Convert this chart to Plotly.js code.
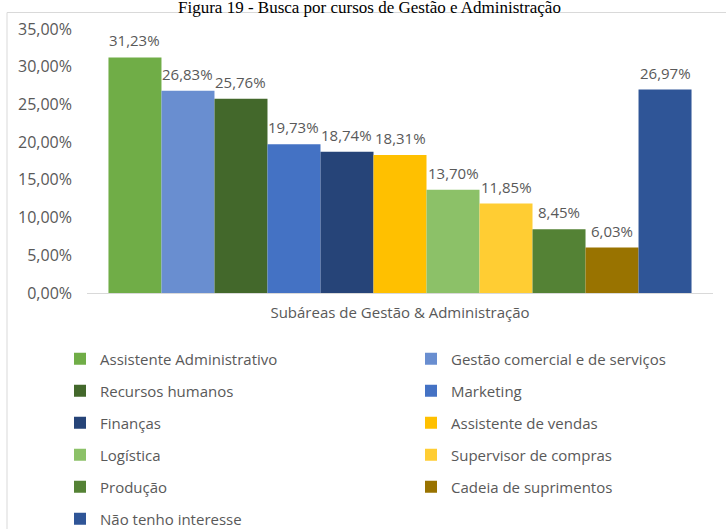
<!DOCTYPE html>
<html>
<head>
<meta charset="utf-8">
<script src="https://cdn.plot.ly/plotly-3.0.1.min.js"></script>
<style>html,body{margin:0;padding:0;background:#fff;}#chart{width:726px;height:529px;}</style>
</head>
<body>
<div id="chart"></div>
<script>
const chartTitle = 'Figura 19 - Busca por cursos de Gestão e Administração';
const axisTitle = 'Subáreas de Gestão & Administração';
const categories = [
  'Assistente Administrativo',
  'Gestão comercial e de serviços',
  'Recursos humanos',
  'Marketing',
  'Finanças',
  'Assistente de vendas',
  'Logística',
  'Supervisor de compras',
  'Produção',
  'Cadeia de suprimentos',
  'Não tenho interesse'
];
const values = [31.23, 26.83, 25.76, 19.73, 18.74, 18.31, 13.70, 11.85, 8.45, 6.03, 26.97];
const colors = ['#70AD47', '#698ED0', '#43682B', '#4472C4', '#264478', '#FFC000',
                '#8CC168', '#FFCD33', '#548235', '#997300', '#2F5597'];

const FONT = 'Open Sans, Lato, sans-serif';
const GRAY = '#595959';

// pixel helpers for layout (plot area 87..713 x, 29..293 y)
const L = 87, R = 713, T = 29, B = 293;
const W = 726, H = 529;
const px = x => (x - L) / (R - L);
const py = y => (B - y) / (B - T);

const fmt = v => v.toFixed(2).replace('.', ',') + '%';

const traces = categories.map((name, i) => ({
  type: 'bar',
  x: [i],
  y: [values[i]],
  width: 1,
  name: name,
  marker: {color: colors[i], line: {width: 0}},
  legend: i % 2 === 0 ? 'legend' : 'legend2',
  legendgroup: 'g' + i,
  hoverinfo: 'name+y'
}));

const annotations = categories.map((name, i) => ({
  x: i, y: values[i], xref: 'x', yref: 'y',
  text: fmt(values[i]), showarrow: false,
  yanchor: 'bottom', yshift: 5,
  font: {family: FONT, size: 15, color: GRAY}
}));
annotations.push({
  xref: 'paper', yref: 'paper', x: px(369.5), y: py(19), xanchor: 'center', yanchor: 'bottom',
  text: chartTitle, showarrow: false,
  font: {family: 'Liberation Serif, Times New Roman, serif', size: 17, color: '#000'}
});

const legendCommon = {
  orientation: 'v', xanchor: 'left', yanchor: 'top',
  font: {family: FONT, size: 15, color: GRAY},
  tracegroupgap: 9.5, bgcolor: 'rgba(0,0,0,0)', borderwidth: 0,
  traceorder: 'grouped'
};

const layout = {
  width: W, height: H,
  margin: {l: L, r: W - R, t: T, b: H - B, pad: 0, autoexpand: false},
  paper_bgcolor: '#ffffff', plot_bgcolor: '#ffffff',
  barmode: 'overlay',
  showlegend: true,
  legend: Object.assign({}, legendCommon, {x: px(60), y: py(342.5)}),
  legend2: Object.assign({}, legendCommon, {x: px(411), y: py(342.5)}),
  xaxis: {
    range: [-0.905, 10.905], showticklabels: false, ticks: '',
    showgrid: false, zeroline: false,
    showline: true, linecolor: '#D9D9D9', linewidth: 1,
    title: {text: axisTitle, standoff: 14, font: {family: FONT, size: 15, color: GRAY}},
    fixedrange: true
  },
  yaxis: {
    range: [0, 35], dtick: 5, tick0: 0,
    tickformat: '.2f', ticksuffix: '%',
    showgrid: false, zeroline: false, showline: false, ticks: '',
    ticklabelstandoff: 14,
    tickfont: {family: FONT, size: 16, color: GRAY},
    fixedrange: true
  },
  separators: ',.',
  annotations: annotations,
  shapes: [{
    type: 'rect', xref: 'paper', yref: 'paper',
    x0: px(7), x1: px(740), y0: py(560), y1: py(12.5),
    line: {color: '#D9D9D9', width: 1}, fillcolor: 'rgba(0,0,0,0)', layer: 'below'
  }]
};

Plotly.newPlot('chart', traces, layout, {displayModeBar: false, staticPlot: true});
</script>
</body>
</html>
